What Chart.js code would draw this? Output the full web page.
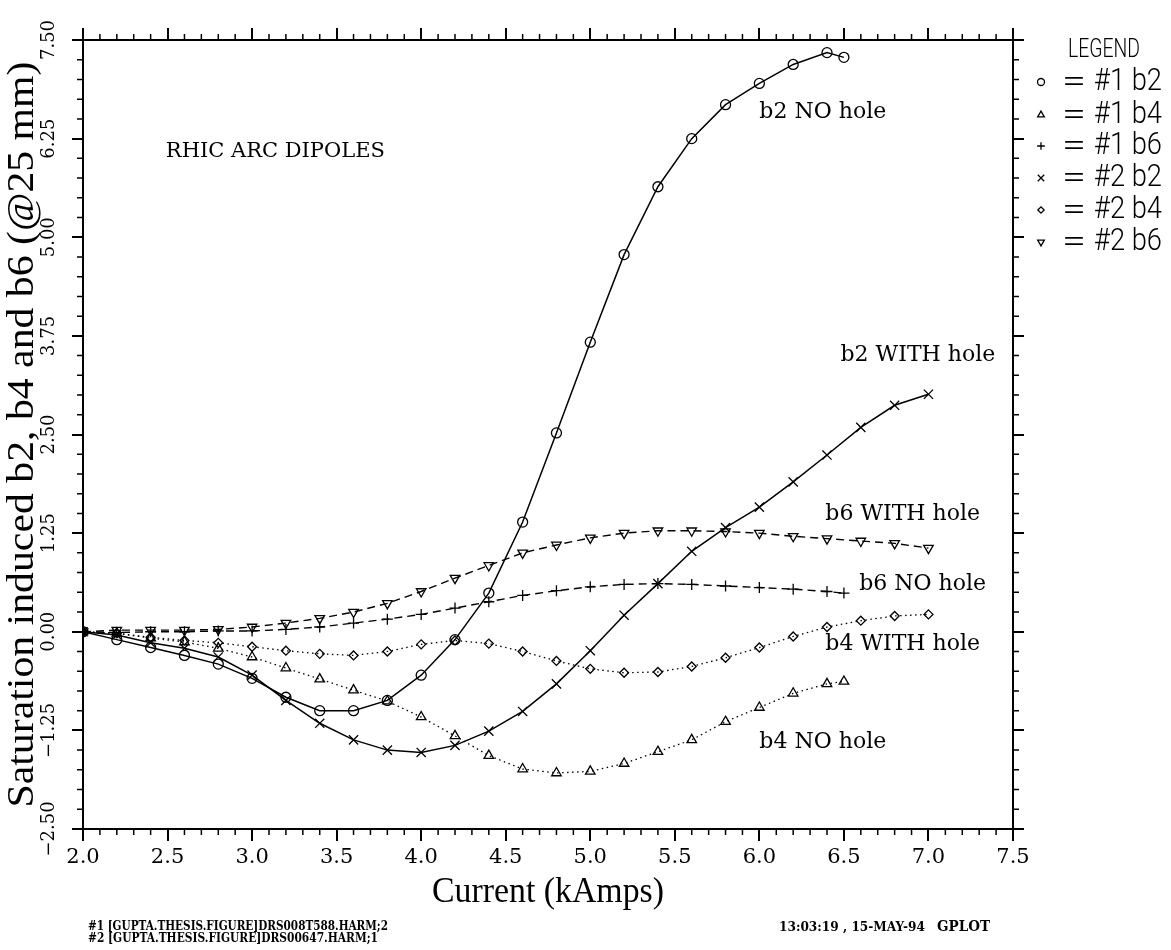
<!DOCTYPE html>
<html><head><meta charset="utf-8">
<script src="https://cdn.jsdelivr.net/npm/chart.js@4/dist/chart.umd.min.js"></script>
<style>html,body{margin:0;padding:0;background:#fff}#wrap{width:1171px;height:950px}</style>
</head><body><div id="wrap"><canvas id="c" width="1171" height="950"></canvas></div>
<script>
// ---- data ----
const currentNoHole   = [2.0,2.2,2.4,2.6,2.8,3.0,3.2,3.4,3.6,3.8,4.0,4.2,4.4,4.6,4.8,5.0,5.2,5.4,5.6,5.8,6.0,6.2,6.4,6.5];
const currentWithHole = [2.0,2.2,2.4,2.6,2.8,3.0,3.2,3.4,3.6,3.8,4.0,4.2,4.4,4.6,4.8,5.0,5.2,5.4,5.6,5.8,6.0,6.2,6.4,6.6,6.8,7.0];

const b2NoHole   = [0,-0.10,-0.20,-0.30,-0.41,-0.59,-0.83,-1.00,-1.00,-0.87,-0.55,-0.10,0.49,1.39,2.52,3.67,4.78,5.64,6.25,6.68,6.95,7.19,7.34,7.28];
const b4NoHole   = [0,-0.02,-0.08,-0.13,-0.21,-0.32,-0.46,-0.60,-0.74,-0.88,-1.08,-1.32,-1.57,-1.74,-1.79,-1.77,-1.67,-1.52,-1.37,-1.14,-0.96,-0.78,-0.66,-0.63];
const b6NoHole   = [0,-0.01,0.00,0.00,0.01,0.01,0.03,0.06,0.11,0.16,0.22,0.30,0.38,0.46,0.52,0.57,0.60,0.61,0.60,0.58,0.56,0.54,0.51,0.49];
const b2WithHole = [0,-0.04,-0.14,-0.21,-0.32,-0.55,-0.87,-1.16,-1.37,-1.50,-1.53,-1.44,-1.26,-1.01,-0.66,-0.24,0.21,0.61,1.02,1.32,1.58,1.90,2.24,2.59,2.87,3.01];
const b4WithHole = [0,-0.02,-0.07,-0.11,-0.14,-0.19,-0.24,-0.28,-0.30,-0.25,-0.16,-0.11,-0.15,-0.25,-0.37,-0.47,-0.52,-0.51,-0.44,-0.33,-0.20,-0.06,0.06,0.14,0.20,0.22];
const b6WithHole = [0,0.02,0.02,0.02,0.03,0.06,0.11,0.17,0.25,0.36,0.51,0.68,0.84,1.00,1.10,1.19,1.25,1.28,1.28,1.27,1.25,1.21,1.18,1.15,1.12,1.06];

const seriesLabels = ['#1 b2','#1 b4','#1 b6','#2 b2','#2 b4','#2 b6'];
const xTickValues = [2.0,2.5,3.0,3.5,4.0,4.5,5.0,5.5,6.0,6.5,7.0,7.5];
const yTickValues = [-2.5,-1.25,0,1.25,2.5,3.75,5.0,6.25,7.5];
const xTitle = 'Current (kAmps)';
const yTitle = 'Saturation induced b2, b4 and b6 (@25 mm)';
const annotations = [
  {text:'RHIC ARC DIPOLES', x:2.49, y:6.08, size:21},
  {text:'b2 NO hole',   x:6.00, y:6.59, size:22},
  {text:'b2 WITH hole', x:6.48, y:3.50, size:22},
  {text:'b6 WITH hole', x:6.39, y:1.49, size:22},
  {text:'b6 NO hole',   x:6.59, y:0.60, size:22},
  {text:'b4 WITH hole', x:6.39, y:-0.16, size:22},
  {text:'b4 NO hole',   x:6.00, y:-1.40, size:22}
];
const footLeft = ['#1 [GUPTA.THESIS.FIGURE]DRS008T588.HARM;2', '#2 [GUPTA.THESIS.FIGURE]DRS00647.HARM;1'];
const footRight = '13:03:19 , 15-MAY-94';
const footTag = 'GPLOT';

// ---- build datasets ----
function pts(xs, ys){ return xs.map((x,i)=>({x:x, y:ys[i]})); }
const SOLID = [], DASH = [8,5], DOT = [1.5,3.5];
const defs = [
  {data:pts(currentNoHole,b2NoHole),     style:'circle',   r:5,   rot:0,   dash:SOLID, w:1.5},
  {data:pts(currentNoHole,b4NoHole),     style:'triangle', r:5.5, rot:0,   dash:DOT,   w:1.3},
  {data:pts(currentNoHole,b6NoHole),     style:'cross',    r:5.5, rot:0,   dash:DASH,  w:1.4},
  {data:pts(currentWithHole,b2WithHole), style:'crossRot', r:6.5, rot:0,   dash:SOLID, w:1.5},
  {data:pts(currentWithHole,b4WithHole), style:'rectRot',  r:4.5, rot:0,   dash:DOT,   w:1.3},
  {data:pts(currentWithHole,b6WithHole), style:'triangle', r:5.5, rot:180, dash:DASH,  w:1.4}
];
const datasets = defs.map((d,i)=>({
  label: seriesLabels[i], data: d.data, xAxisID:'x', yAxisID:'y',
  borderColor:'#000', borderWidth:d.w, borderDash:d.dash, tension:0, fill:false,
  pointStyle:d.style, pointRadius:d.r, pointRotation:d.rot, pointBorderWidth:1.3,
  pointBorderColor:'#000', pointBackgroundColor:'rgba(0,0,0,0)', pointHoverRadius:d.r
}));

// ---- helpers ----
function fitText(ctx, text, x, y, width, align){
  const w = ctx.measureText(text).width;
  ctx.save(); ctx.translate(x,y); ctx.scale(width/w,1);
  ctx.textAlign = align || 'left'; ctx.fillText(text,0,0); ctx.restore();
}

const deco = {
  id:'deco',
  afterDraw(chart){
    const ctx = chart.ctx, xs = chart.scales.x, ys = chart.scales.y, a = chart.chartArea;
    ctx.save();
    ctx.strokeStyle = '#000'; ctx.fillStyle = '#000'; ctx.lineWidth = 1.5;
    // minor ticks
    ctx.beginPath();
    for (let i = 0; i <= 55; i++) {
      if (i % 5 === 0) continue;
      const px = xs.getPixelForValue(2 + i*0.1);
      ctx.moveTo(px, a.bottom); ctx.lineTo(px, a.bottom+6);
      ctx.moveTo(px, a.top); ctx.lineTo(px, a.top-6);
    }
    for (let i = 0; i <= 40; i++) {
      if (i % 5 === 0) continue;
      const py = ys.getPixelForValue(-2.5 + i*0.25);
      ctx.moveTo(a.left, py); ctx.lineTo(a.left-6, py);
      ctx.moveTo(a.right, py); ctx.lineTo(a.right+6, py);
    }
    ctx.stroke();

    // y tick labels (rotated)
    ctx.font = '18px "DejaVu Serif"'; ctx.textAlign='center'; ctx.textBaseline='middle';
    ys.ticks.forEach(t => {
      const py = ys.getPixelForValue(t.value);
      const s = (t.value < 0 ? '\u2212' : '') + Math.abs(t.value).toFixed(2);
      ctx.save(); ctx.translate(49, py); ctx.rotate(-Math.PI/2); ctx.fillText(s,0,0); ctx.restore();
    });

    // axis titles
    ctx.textBaseline = 'middle';
    ctx.font = '36px "Liberation Serif"';
    fitText(ctx, xTitle, (a.left+a.right)/2, 893, 232, 'center');
    ctx.save(); ctx.translate(23, (a.top+a.bottom)/2); ctx.rotate(-Math.PI/2);
    ctx.font = '37px "Liberation Serif"';
    fitText(ctx, yTitle, 0, 0, 746, 'center');
    ctx.restore();

    // annotations
    ctx.textAlign='left'; ctx.textBaseline='middle';
    annotations.forEach(an => {
      ctx.font = an.size + 'px "DejaVu Serif"';
      ctx.fillText(an.text, xs.getPixelForValue(an.x), ys.getPixelForValue(an.y));
    });

    // legend
    ctx.font = '300 26px Roboto, "Liberation Sans"';
    fitText(ctx, 'LEGEND', 1068, 50, 72, 'left');
    const rows = [82,115,146,178,210,242];
    chart.data.datasets.forEach((ds,i) => {
      const y = rows[i];
      ctx.save();
      ctx.strokeStyle='#000'; ctx.fillStyle='rgba(0,0,0,0)'; ctx.lineWidth=1.3; ctx.setLineDash([]);
      Chart.helpers.drawPoint(ctx, {pointStyle:ds.pointStyle, radius:ds.pointRadius*0.7, rotation:ds.pointRotation, borderWidth:1.3}, 1041, y);
      ctx.restore();
      ctx.fillStyle='#000';
      ctx.font = '300 32px Roboto, "Liberation Sans"';
      fitText(ctx, '=', 1062, y+1, 24, 'left');
      fitText(ctx, ds.label, 1094, y, 68, 'left');
    });

    // footnotes
    ctx.font = 'bold 12px "DejaVu Serif"';
    fitText(ctx, footLeft[0], 88, 927, 300, 'left');
    fitText(ctx, footLeft[1], 88, 939, 290, 'left');
    fitText(ctx, footRight, 779, 928, 146, 'left');
    ctx.font = 'bold 15px "DejaVu Serif"';
    fitText(ctx, footTag, 937, 927, 53, 'left');
    ctx.restore();
  }
};

const gridOpts = (len) => ({drawOnChartArea:false, drawTicks:true, tickLength:len, lineWidth:2, color:'#000'});
const borderOpts = {display:true, color:'#000', width:2};

new Chart(document.getElementById('c').getContext('2d'), {
  type:'line',
  data:{datasets},
  options:{
    responsive:false, animation:false,
    layout:{padding:0},
    plugins:{legend:{display:false}, tooltip:{enabled:false}},
    scales:{
      x:{type:'linear', position:'bottom', min:2, max:7.5,
         afterBuildTicks:s=>{s.ticks = xTickValues.map(v=>({value:v}));},
         ticks:{callback:v=>Number(v).toFixed(1), font:{family:'DejaVu Serif', size:21}, color:'#000', padding:4, maxRotation:0, minRotation:0, autoSkip:false},
         grid:gridOpts(12), border:borderOpts, afterFit:s=>{s.height=121;}},
      x2:{type:'linear', position:'top', min:2, max:7.5,
         afterBuildTicks:s=>{s.ticks = xTickValues.map(v=>({value:v}));},
         ticks:{display:false}, grid:gridOpts(12), border:borderOpts, afterFit:s=>{s.height=40;}},
      y:{type:'linear', position:'left', min:-2.5, max:7.5,
         afterBuildTicks:s=>{s.ticks = yTickValues.map(v=>({value:v}));},
         ticks:{display:false}, grid:gridOpts(11), border:borderOpts, afterFit:s=>{s.width=83;}},
      y2:{type:'linear', position:'right', min:-2.5, max:7.5,
         afterBuildTicks:s=>{s.ticks = yTickValues.map(v=>({value:v}));},
         ticks:{display:false}, grid:gridOpts(11), border:borderOpts, afterFit:s=>{s.width=158;}}
    }
  },
  plugins:[deco]
});
</script>
</body></html>
